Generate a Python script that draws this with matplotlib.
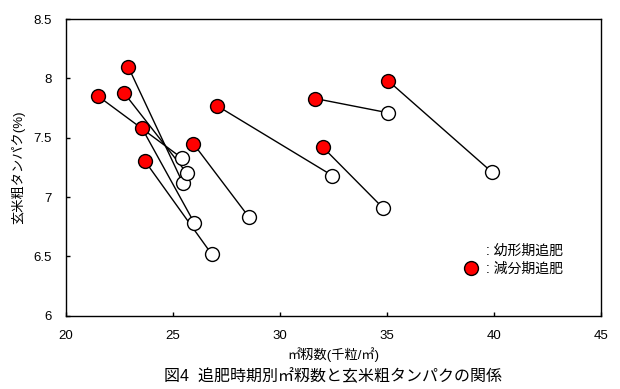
import matplotlib
matplotlib.use("Agg")
import matplotlib.pyplot as plt
from matplotlib.lines import Line2D

plt.rcParams['font.family'] = ['Liberation Sans', 'Noto Sans CJK JP', 'DejaVu Sans']

# 幼形期追肥 (white) and 減分期追肥 (red) pairs
young_x = [25.40, 25.45, 25.65, 26.00, 26.80, 28.55, 32.45, 35.05, 34.80, 39.90]
young_y = [7.33, 7.12, 7.20, 6.78, 6.52, 6.83, 7.18, 7.71, 6.91, 7.21]
reduc_x = [21.50, 22.90, 22.70, 23.55, 23.70, 25.95, 27.05, 31.65, 32.00, 35.05]
reduc_y = [7.85, 8.10, 7.88, 7.58, 7.30, 7.45, 7.77, 7.83, 7.42, 7.98]

xticks = [20, 25, 30, 35, 40, 45]
yticks = [6, 6.5, 7, 7.5, 8, 8.5]
ytick_labels = ['6', '6.5', '7', '7.5', '8', '8.5']

fig = plt.figure(figsize=(6.2, 3.89), dpi=100)
ax = fig.add_axes([0.1065, 0.1884, 0.863, 0.7626])

for x1, y1, x2, y2 in zip(reduc_x, reduc_y, young_x, young_y):
    ax.plot([x1, x2], [y1, y2], color='black', lw=1.0, zorder=2)

ax.plot(young_x, young_y, 'o', ms=10, mfc='white', mec='black', mew=1.0, ls='none', zorder=3)
ax.plot(reduc_x, reduc_y, 'o', ms=10, mfc='#ff0000', mec='black', mew=1.0, ls='none', zorder=4)

ax.set_xlim(20, 45)
ax.set_ylim(6, 8.5)
ax.set_xticks(xticks)
ax.set_yticks(yticks)
ax.set_yticklabels(ytick_labels)
ax.tick_params(direction='in', length=3, width=1, labelsize=9.5, pad=10)
for s in ax.spines.values():
    s.set_linewidth(1.0)

ax.set_xlabel('㎡籾数(千粒/㎡)', fontsize=9.5, labelpad=4)
ax.set_ylabel('玄米粗タンパク(%)', fontsize=9.5, labelpad=6)

handles = [
    Line2D([], [], marker='o', ls='none', ms=10, mfc='white', mec='white'),
    Line2D([], [], marker='o', ls='none', ms=10, mfc='#ff0000', mec='black', mew=1.0),
]
ax.legend(handles, [': 幼形期追肥', ': 減分期追肥'], frameon=False, fontsize=10,
          loc='upper left', bbox_to_anchor=(0.72, 0.262), handletextpad=0.1,
          labelspacing=0.3, borderaxespad=0)

fig.text(0.537, 0.012, '図4  追肥時期別㎡籾数と玄米粗タンパクの関係', ha='center',
         va='bottom', fontsize=11.5)

fig.savefig('out.png', dpi=100)
